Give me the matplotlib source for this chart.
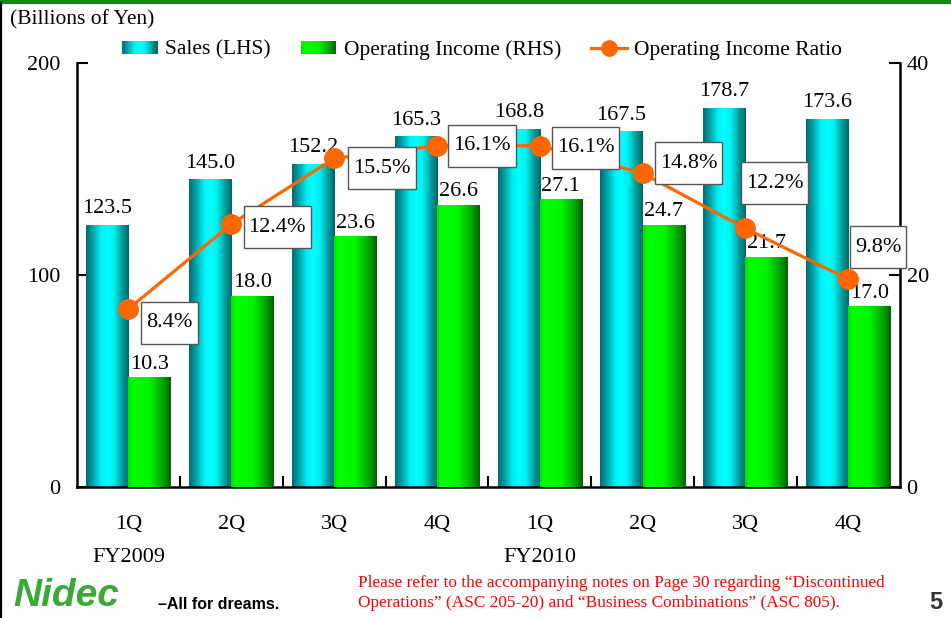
import numpy as np
import matplotlib
matplotlib.use("Agg")
import matplotlib.pyplot as plt
from matplotlib.patches import Rectangle
from matplotlib.path import Path
from matplotlib.lines import Line2D
from matplotlib.legend_handler import HandlerBase
from matplotlib.colors import LinearSegmentedColormap

# ---- data ----
quarters = ["1Q", "2Q", "3Q", "4Q", "1Q", "2Q", "3Q", "4Q"]
fiscal_years = ["FY2009", "FY2010"]
fy_start_index = [0, 4]
sales = [123.5, 145.0, 152.2, 165.3, 168.8, 167.5, 178.7, 173.6]
op_income = [10.3, 18.0, 23.6, 26.6, 27.1, 24.7, 21.7, 17.0]
op_ratio = [8.4, 12.4, 15.5, 16.1, 16.1, 14.8, 12.2, 9.8]

# ---- styles ----
SERIF = ["Liberation Serif", "DejaVu Serif"]
plt.rcParams['font.family'] = SERIF
FS = 16
ORANGE = "#ff6600"
cyan_stops = [(0.0, (0.0, 0.42, 0.44)), (0.15, (0.0, 0.62, 0.64)), (0.35, (0.0, 0.94, 0.96)),
              (0.5, (0.0, 1.0, 1.0)), (0.65, (0.0, 0.94, 0.94)), (0.85, (0.0, 0.6, 0.6)),
              (1.0, (0.0, 0.40, 0.40))]
green_stops = [(0.0, (0.0, 0.88, 0.0)), (0.1, (0.0, 1.0, 0.0)), (0.5, (0.0, 0.96, 0.0)),
               (0.8, (0.0, 0.66, 0.0)), (1.0, (0.0, 0.38, 0.0))]
cyan_cmap = LinearSegmentedColormap.from_list("cy", cyan_stops)
green_cmap = LinearSegmentedColormap.from_list("gr", green_stops)


def label_box(x0, y0, width, height, mutation_size):
    px = 0.22 * mutation_size
    py = 0.52 * mutation_size
    x0, y0 = x0 - px, y0 - py
    x1, y1 = x0 + width + 2 * px, y0 + height + 2 * py
    return Path([(x0, y0), (x1, y0), (x1, y1), (x0, y1), (x0, y0)], closed=True)


fig = plt.figure(figsize=(9.51, 6.18), dpi=100)
ax = fig.add_axes([0.081, 0.212, 0.865, 0.686])
ax2 = ax.twinx()
ax3 = ax.twinx()

x = np.arange(len(quarters))
w = 0.41
b1 = ax.bar(x - w / 2, sales, width=w, color="none", edgecolor="none")
b2 = ax2.bar(x + w / 2, op_income, width=w, color="none", edgecolor="none")

grad = np.linspace(0, 1, 256).reshape(1, -1)
for bars, a, cmap in ((b1, ax, cyan_cmap), (b2, ax2, green_cmap)):
    for p in bars:
        x0, y0 = p.get_x(), p.get_y()
        a.imshow(grad, cmap=cmap, extent=[x0, x0 + p.get_width(), y0, y0 + p.get_height()],
                 aspect="auto", interpolation="bilinear", zorder=2)

ax.set_xlim(-0.5, len(quarters) - 0.5)
ax.set_ylim(0, 200)
ax2.set_ylim(0, 40)
ax3.set_ylim(0, 20)

# value labels
for xi, v in zip(x, sales):
    ax.annotate(f"{v:.1f}", (xi - w / 2, v), xytext=(0, 5), textcoords="offset points",
                ha="center", va="bottom", fontsize=FS, zorder=5)
for xi, v in zip(x, op_income):
    ax2.annotate(f"{v:.1f}", (xi + w / 2, v), xytext=(0, 3), textcoords="offset points",
                 ha="center", va="bottom", fontsize=FS, zorder=5)

# ratio line
ax3.plot(x, op_ratio, color=ORANGE, lw=2.3, marker="o", markersize=14, zorder=6)
offsets_px = [(41, -14), (46, -3), (48, -10), (45, 0), (46, -2), (46, 10), (29, 45), (30, 32)]
for xi, v, (dx, dy) in zip(x, op_ratio, offsets_px):
    ax3.annotate(f"{v:.1f}%", (xi, v), xytext=(dx * 0.72, dy * 0.72), textcoords="offset points",
                 ha="center", va="center", fontsize=FS, zorder=7,
                 bbox=dict(boxstyle=label_box, facecolor="white", edgecolor="#555555", lw=1.0))

# axes styling
for a in (ax, ax2, ax3):
    a.spines["top"].set_visible(False)
    a.patch.set_visible(False)
for s in ("left", "bottom"):
    ax.spines[s].set_linewidth(1.8)
ax.spines["right"].set_visible(False)
ax2.spines["right"].set_linewidth(1.8)
ax2.spines["left"].set_visible(False)
ax2.spines["bottom"].set_visible(False)
ax3.axis("off")

ax.set_yticks([0, 100, 200])
ax.tick_params(axis="y", direction="in", length=8, width=1.5, labelsize=FS, pad=12)
ax2.set_yticks([0, 20, 40])
ax2.tick_params(axis="y", direction="in", length=8, width=1.5, labelsize=FS, pad=5)

ax.set_xticks(x)
ax.set_xticklabels(quarters)
ax.tick_params(axis="x", which="major", length=0, labelsize=FS, pad=20)
ax.set_xticks(x[:-1] + 0.5, minor=True)
ax.tick_params(axis="x", which="minor", direction="in", length=8, width=1.5)

for lbl, idx in zip(fiscal_years, fy_start_index):
    ax.text(idx, -0.167, lbl, transform=ax.get_xaxis_transform(), ha="center", va="center", fontsize=FS)

# legend with gradient patches
class GradHandler(HandlerBase):
    def __init__(self, cmap, n=24):
        super().__init__()
        self.cmap = cmap
        self.n = n

    def create_artists(self, legend, orig_handle, xdescent, ydescent, width, height, fontsize, trans):
        arts = []
        for i in range(self.n):
            c = self.cmap((i + 0.5) / self.n)
            arts.append(Rectangle((-xdescent + i * width / self.n, -ydescent), width / self.n * 1.05, height,
                                  facecolor=c, edgecolor="none", transform=trans))
        return arts

h_sales = Rectangle((0, 0), 1, 1)
h_oi = Rectangle((0, 1), 1, 1)
h_ratio = Line2D([], [], color=ORANGE, lw=2.3, marker="o", markersize=11)
fig.legend([h_sales, h_oi, h_ratio], ["Sales (LHS)", "Operating Income (RHS)", "Operating Income Ratio"],
           handler_map={h_sales: GradHandler(cyan_cmap), h_oi: GradHandler(green_cmap)},
           loc="center", bbox_to_anchor=(0.507, 0.919), ncol=3, frameon=False, fontsize=15.5,
           handlelength=1.65, handleheight=0.6, handletextpad=0.35, columnspacing=1.4, borderpad=0)

fig.text(0.011, 0.968, "(Billions of Yen)", ha="left", va="center", fontsize=15.5)

# footer
fig.text(0.376, 0.04, "Please refer to the accompanying notes on Page 30 regarding \u201cDiscontinued\n"
         "Operations\u201d (ASC 205-20) and \u201cBusiness Combinations\u201d (ASC 805).",
         ha="left", va="center", fontsize=12.4, color="#ff0000", linespacing=1.3)
fig.text(0.991, 0.006, "5", ha="right", va="bottom", fontsize=17, fontweight="bold",
         family=["Liberation Sans", "DejaVu Sans"], color="#333333")
fig.text(0.014, 0.006, "Nidec", ha="left", va="bottom", fontsize=28, fontweight="bold", style="italic",
         family=["Liberation Sans", "DejaVu Sans"], color="#3aa935")
fig.text(0.166, 0.010, "\u2013All for dreams.", ha="left", va="bottom", fontsize=11.5, fontweight="bold",
         family=["Liberation Sans Narrow", "Liberation Sans", "DejaVu Sans"], color="black")

# borders
fig.add_artist(Line2D([0, 1], [0.997, 0.997], transform=fig.transFigure, color="#138a13", lw=3))
fig.add_artist(Line2D([0.0015, 0.0015], [0, 0.995], transform=fig.transFigure, color="black", lw=1.6))

fig.savefig("out.png", dpi=100)
